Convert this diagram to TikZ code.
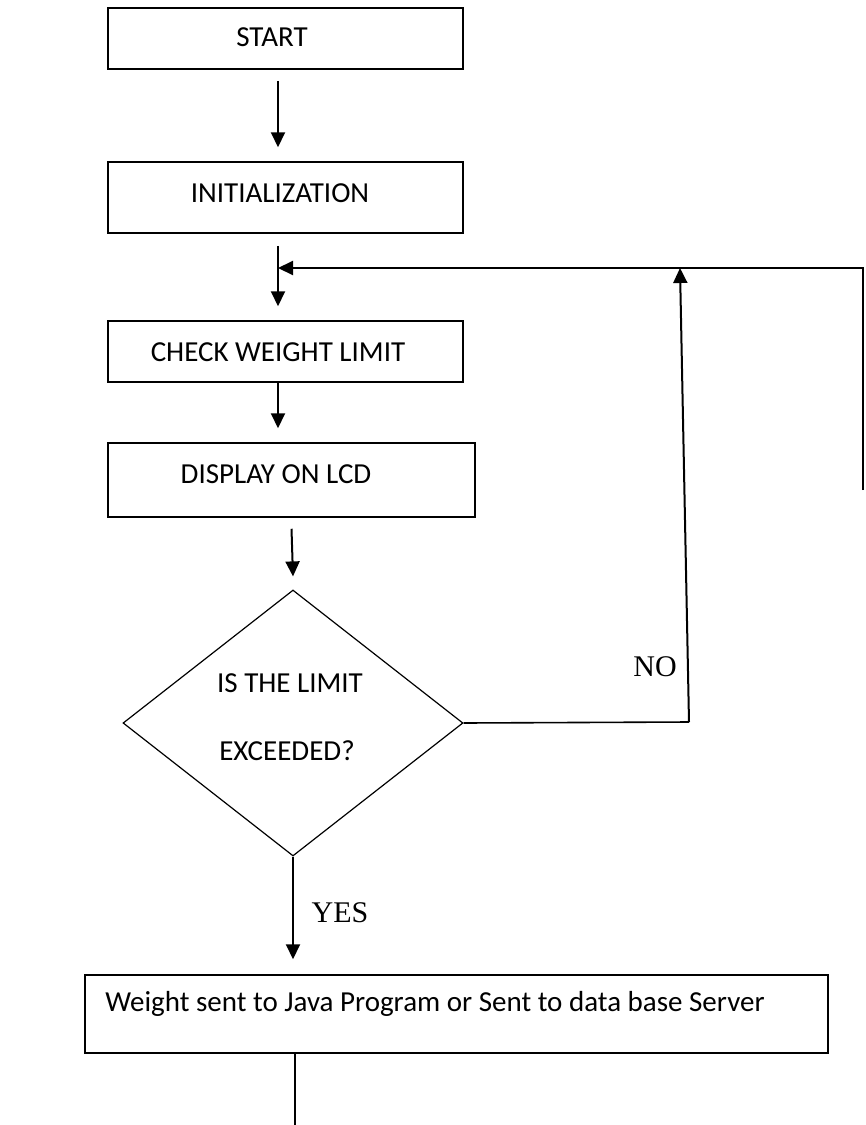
\documentclass[tikz,border=0pt]{standalone}
\usepackage{fontspec}
\setmainfont{Carlito}
\newfontfamily\timesf{Liberation Serif}
\usetikzlibrary{shapes.geometric,arrows.meta,calc}
\begin{document}
\begin{tikzpicture}[x=1pt,y=-1pt,
  box/.style={draw,line width=1.5pt,inner sep=0pt},
  lbl/.style={font=\fontsize{29}{35}\selectfont,inner sep=0pt,anchor=base},
  ans/.style={font=\timesf\fontsize{30}{36}\selectfont,inner sep=0pt,anchor=base},
  arr/.style={line width=2pt,-{Triangle[length=15pt,width=14pt]}},
  conn/.style={line width=1.6pt}]
\useasboundingbox (0,0) rectangle (866,1125);
\coordinate (axis) at (278,0);
% boxes
\node[box,minimum width=355pt,minimum height=61pt] (start) at (285.5,38.5) {};
\node[lbl] (tstart) at (272,46) {START};
\node[box,minimum width=355pt,minimum height=71pt] (init) at (285.5,197.5) {};
\node[lbl] (tinit) at (280,202) {INITIALIZATION};
\node[box,minimum width=355pt,minimum height=61pt] (check) at (285.5,351.5) {};
\node[lbl] (tcheck) at (278,361) {CHECK WEIGHT LIMIT};
\node[box,minimum width=367pt,minimum height=74pt] (disp) at (291.5,480) {};
\node[lbl] (tdisp) at (276,483) {DISPLAY ON LCD};
\node[draw,shape=diamond,line width=1.2pt,inner sep=0pt,minimum width=340pt,minimum height=266pt] (dec) at (293,723) {};
\node[lbl] (tdec1) at (290,692) {IS THE LIMIT};
\node[lbl] (tdec2) at (287,760) {EXCEEDED?};
\node[box,minimum width=743pt,minimum height=78pt] (out) at (456.5,1014) {};
\node[lbl] (tout) at (435,1011) {Weight sent to Java Program or Sent to data base Server};
% labels
\node[ans] (no) at (655,676) {NO};
\node[ans] (yes) at (340,922) {YES};
% connectors
\draw[arr] ([yshift=-11pt]start.south -| axis) -- ([yshift=14pt]init.north -| axis);
\draw[arr] ([yshift=-12pt]init.south -| axis) -- ([yshift=14pt]check.north -| axis);
\draw[arr] (check.south -| axis) -- ([yshift=14pt]disp.north -| axis);
\draw[arr] ([yshift=-11pt]disp.south) -- ([yshift=13pt]dec.north);
\draw[arr] (dec.south) -- ([yshift=15pt]out.north -| dec.south);
\coordinate (nocorner) at (689,722);
\coordinate (nojoin) at (680,268);
\draw[conn] (dec.east) -- (nocorner);
\draw[arr] (nocorner) -- (nojoin);
\coordinate (rend) at (863,490);
\coordinate (rcorner) at (863,268);
\coordinate (loopin) at (278,268);
\draw[conn] (rend) -- (rcorner) -- (nojoin);
\draw[arr] (nojoin) -- (loopin);
\coordinate (bend) at (295,1125);
\draw[conn] (out.south -| bend) -- (bend);
\end{tikzpicture}
\end{document}
